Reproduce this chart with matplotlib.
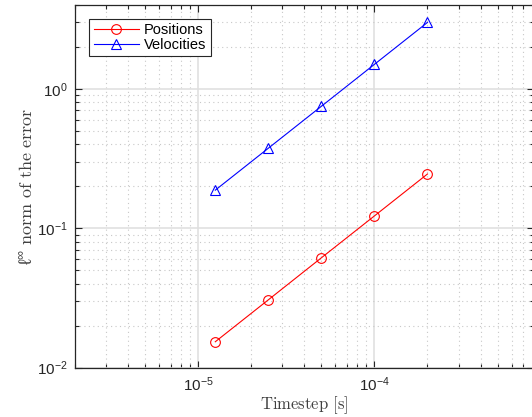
import matplotlib
matplotlib.use("Agg")
import matplotlib.pyplot as plt
from matplotlib.ticker import LogLocator, NullFormatter

# data
timesteps = [1.25e-5, 2.5e-5, 5e-5, 1e-4, 2e-4]
err_positions = [0.0153, 0.0306, 0.0613, 0.1225, 0.245]
err_velocities = [0.1875, 0.375, 0.75, 1.5, 3.0]

plt.rcParams["font.family"] = ["Liberation Sans", "DejaVu Sans"]
plt.rcParams["mathtext.default"] = "regular"
plt.rcParams["mathtext.fontset"] = "cm"

fig = plt.figure(figsize=(5.32, 4.17), dpi=100)
ax = fig.add_axes([0.141, 0.1187, 0.862, 0.8693])

ax.loglog(timesteps, err_positions, "-o", color="red", lw=0.8,
          mfc="none", mec="red", ms=7, mew=0.8, label="Positions")
ax.loglog(timesteps, err_velocities, "-^", color="blue", lw=0.8,
          mfc="none", mec="blue", ms=7.5, mew=0.8, label="Velocities")

ax.set_xlim(2e-6, 8e-4)
ax.set_ylim(1e-2, 4)

ax.xaxis.set_minor_locator(LogLocator(base=10, subs=range(2, 10), numticks=20))
ax.yaxis.set_minor_locator(LogLocator(base=10, subs=range(2, 10), numticks=20))
ax.xaxis.set_minor_formatter(NullFormatter())
ax.yaxis.set_minor_formatter(NullFormatter())

ax.grid(True, which="major", color="#e0e0e0", lw=1.2, ls="-")
ax.grid(True, which="minor", color="#c8c8c8", lw=0.8, ls=(0, (1, 3)))
ax.set_axisbelow(True)

ax.tick_params(which="both", direction="in", top=True, right=True,
               colors="#262626", labelsize=11)
ax.tick_params(which="major", length=5, width=0.8)
ax.tick_params(which="minor", length=3, width=0.8)
ax.tick_params(axis="x", pad=6)
ax.tick_params(axis="y", pad=5)
for s in ax.spines.values():
    s.set_color("#262626")
    s.set_linewidth(0.9)

ax.set_xlabel(r"$\mathrm{Timestep\ [s]}$", fontsize=12, color="#404040",
              labelpad=0)
ax.set_ylabel(r"$\ell^\infty\ \mathrm{norm\ of\ the\ error}$", fontsize=13,
              color="#404040", labelpad=0)

leg = ax.legend(loc="upper left", bbox_to_anchor=(0.031, 0.962), fontsize=10.5,
                fancybox=False, framealpha=1, edgecolor="#262626",
                borderpad=0.3, borderaxespad=0, handlelength=3.1,
                labelspacing=0.05, handletextpad=0.35)
leg.get_frame().set_linewidth(0.8)

fig.savefig("out.png", dpi=100)
